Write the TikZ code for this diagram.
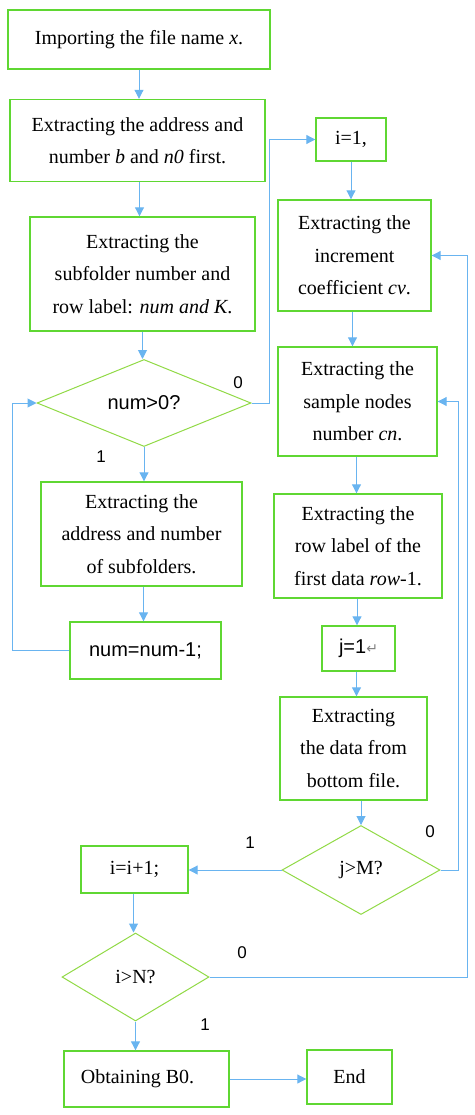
\documentclass[tikz,border=0pt]{standalone}
\usepackage{fontspec}
\setmainfont{Liberation Serif}
\setsansfont{Liberation Sans}
\newfontfamily\dejavu{DejaVu Sans}
\usetikzlibrary{shapes.geometric,arrows.meta}
\definecolor{bgreen}{RGB}{95,215,50}
\definecolor{dgreen}{RGB}{145,218,70}
\definecolor{ablue}{RGB}{105,180,240}
\begin{document}
\begin{tikzpicture}[x=1pt,y=-1pt,
  box/.style={draw=bgreen,line width=1.4pt,fill=white,align=center,inner sep=0pt,
    font=\fontsize{20}{32.5}\selectfont},
  dia/.style={diamond,draw=dgreen,line width=1pt,fill=white,inner sep=0pt,aspect=2.4,
    font=\fontsize{20}{24}\selectfont},
  sbox/.style={font=\sffamily\fontsize{20}{24}\selectfont},
  lab/.style={font=\sffamily\fontsize{17}{20}\selectfont,inner sep=0pt},
  arr/.style={draw=ablue,line width=1pt,-{Triangle[length=9pt,width=9pt]}},
  ln/.style={draw=ablue,line width=1pt}]
\useasboundingbox (0,0) rectangle (474,1115);
% boxes
\node[box,minimum width=262pt,minimum height=59pt] (imp) at (139,39.5) {Importing the file name \textit{x}.};
\node[box,minimum width=255pt,minimum height=82pt] (addr) at (137.5,140.5) {Extracting the address and\\number \textit{b} and \textit{n0} first.};
\node[box,minimum width=70pt,minimum height=43pt] (i1) at (351,139.5) {i=1,};
\node[box,minimum width=225pt,minimum height=114pt] (sub) at (142.5,274) {Extracting the\\subfolder number and\\row label: \textit{num and K}.};
\node[dia,minimum width=214pt,minimum height=87pt] (d1) at (144,403) {\sffamily num>0?};
\node[box,minimum width=153pt,minimum height=111pt] (inc) at (354.5,255.5) {Extracting the\\increment\\coefficient \textit{cv}.};
\node[box,minimum width=159pt,minimum height=109pt] (smp) at (357.5,401.5) {Extracting the\\sample nodes\\number \textit{cn}.};
\node[box,minimum width=201pt,minimum height=104pt] (sfa) at (141.5,534) {Extracting the\\address and number\\of subfolders.};
\node[box,minimum width=168pt,minimum height=104pt] (rowl) at (358,546) {Extracting the\\row label of the\\first data \textit{row}-1.};
\node[box,minimum width=151pt,minimum height=57pt] (nm) at (145.5,650.5) {\sffamily num=num-1;};
\node[box,minimum width=73pt,minimum height=45pt] (j1) at (358.5,648.5) {\sffamily j=1{\dejavu\fontsize{14}{16}\selectfont\color{gray}↵}};
\node[box,minimum width=147pt,minimum height=103pt] (dat) at (353.5,748.5) {Extracting\\the data from\\bottom file.};
\node[dia,minimum width=158pt,minimum height=89pt] (d2) at (361,870) {j>M?};
\node[box,minimum width=107pt,minimum height=47pt] (ii) at (134.5,869.5) {i=i+1;};
\node[dia,minimum width=147pt,minimum height=88pt] (d3) at (135.5,977) {i>N?};
\node[box,minimum width=165pt,minimum height=56pt] (ob) at (146.5,1079) {Obtaining B0.\hspace{18pt}};
\node[box,minimum width=85pt,minimum height=54pt] (end) at (349.5,1077) {End};
% labels
\node[lab] (l0a) at (238,383) {0};
\node[lab] (l1a) at (101,457) {1};
\node[lab] (l0b) at (430,832) {0};
\node[lab] (l1b) at (250,843) {1};
\node[lab] (l0c) at (242,953) {0};
\node[lab] (l1c) at (205,1025) {1};
% connectors
\draw[arr] (imp.south) -- (imp.south |- addr.north);
\draw[arr] ([xshift=2pt]addr.south) -- ([xshift=2pt]addr.south |- sub.north);
\draw[arr] (sub.south) -- (sub.south |- d1.north);
\draw[arr] (d1.east) -- ++(18,0) |- (i1.west);
\draw[arr] (d1.south) -- (d1.south |- sfa.north);
\draw[arr] ([xshift=2pt]sfa.south) -- ([xshift=2pt]sfa.south |- nm.north);
\draw[arr] (nm.west) -- ++(-57,0) |- (d1.west);
\draw[arr] (i1.south) -- (i1.south |- inc.north);
\draw[arr] ([xshift=-2pt]inc.south) -- ([xshift=-2pt]inc.south |- smp.north);
\draw[arr] ([xshift=-1pt]smp.south) -- ([xshift=-1pt]smp.south |- rowl.north);
\draw[arr] ([xshift=-1pt]rowl.south) -- ([xshift=-1pt]rowl.south |- j1.north);
\draw[arr] ([xshift=-2pt]j1.south) -- ([xshift=-2pt]j1.south |- dat.north);
\draw[arr] (d2.north |- dat.south) -- (d2.north);
\draw[arr] (d2.east) -- ++(18,0) |- (smp.east);
\draw[arr] (d2.west) -- (d2.west -| ii.east);
\draw[arr] ([xshift=-1pt]ii.south) -- ([xshift=-1pt]ii.south |- d3.north);
\draw[arr] (d3.east) -- ++(258,0) |- (inc.east);
\draw[arr] (d3.south) -- (d3.south |- ob.north);
\draw[arr] (ob.east) -- (ob.east -| end.west);
\end{tikzpicture}
\end{document}
